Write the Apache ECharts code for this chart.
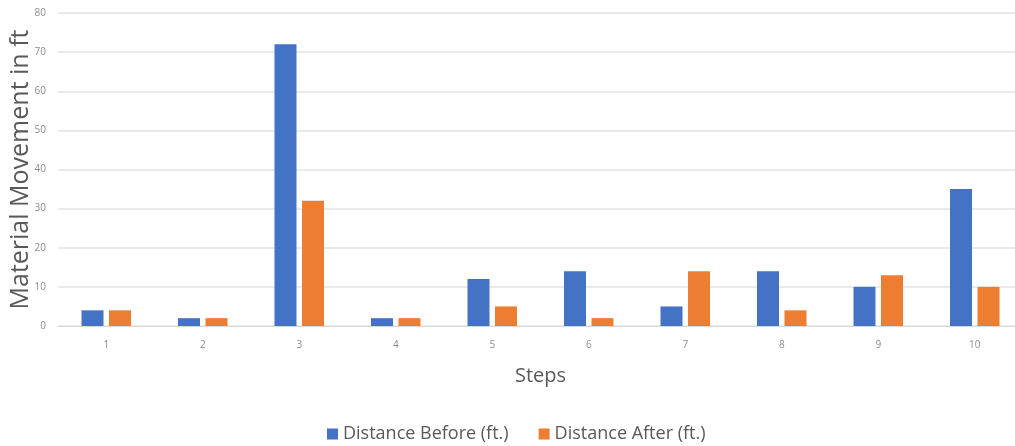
<!DOCTYPE html>
<html>
<head>
<meta charset="utf-8">
<script src="https://cdn.jsdelivr.net/npm/echarts@6/dist/echarts.min.js"></script>
<style>html,body{margin:0;padding:0;background:#fff}#c{width:1015px;height:446px}</style>
</head>
<body>
<div id="c"></div>
<script>
const categories = ['1','2','3','4','5','6','7','8','9','10'];
const before = [4, 2, 72, 2, 12, 14, 5, 14, 10, 35];
const after = [4, 2, 32, 2, 5, 2, 14, 4, 13, 10];
const seriesNames = ['Distance Before (ft.)', 'Distance After (ft.)'];
const font = 'Open Sans';
const chart = echarts.init(document.getElementById('c'));
chart.setOption({
  animation: false,
  textStyle: { fontFamily: font },
  color: ['#4472C4', '#ED7D31'],
  grid: { left: 58, width: 965, top: 13, height: 313, containLabel: false, outerBoundsMode: 'none' },
  legend: {
    top: 420, left: 322, itemWidth: 11, itemHeight: 11, itemGap: 30,
    icon: 'rect',
    textStyle: { fontSize: 18, color: '#595959', fontFamily: font }
  },
  xAxis: {
    type: 'category', data: categories,
    name: 'Steps', nameLocation: 'middle', nameGap: 40, nameMoveOverlap: false,
    nameTextStyle: { fontSize: 20, color: '#595959', fontFamily: font },
    axisLine: { lineStyle: { color: '#d9d9d9' } },
    axisTick: { show: false },
    axisLabel: { color: '#8c8c8c', fontSize: 10, margin: 14 }
  },
  yAxis: {
    type: 'value', min: 0, max: 80, interval: 10,
    name: 'Material Movement in ft', nameLocation: 'middle', nameGap: 25, nameMoveOverlap: false,
    nameTextStyle: { fontSize: 25, color: '#595959', fontFamily: font },
    axisLine: { show: false }, axisTick: { show: false },
    axisLabel: { color: '#8c8c8c', fontSize: 10, margin: 12 },
    splitLine: { lineStyle: { color: '#e3e3e3', width: 1.5 } }
  },
  series: [
    { name: seriesNames[0], type: 'bar', data: before, barWidth: 22, barGap: '25%' },
    { name: seriesNames[1], type: 'bar', data: after, barWidth: 22, barGap: '25%' }
  ]
});
</script>
</body>
</html>
